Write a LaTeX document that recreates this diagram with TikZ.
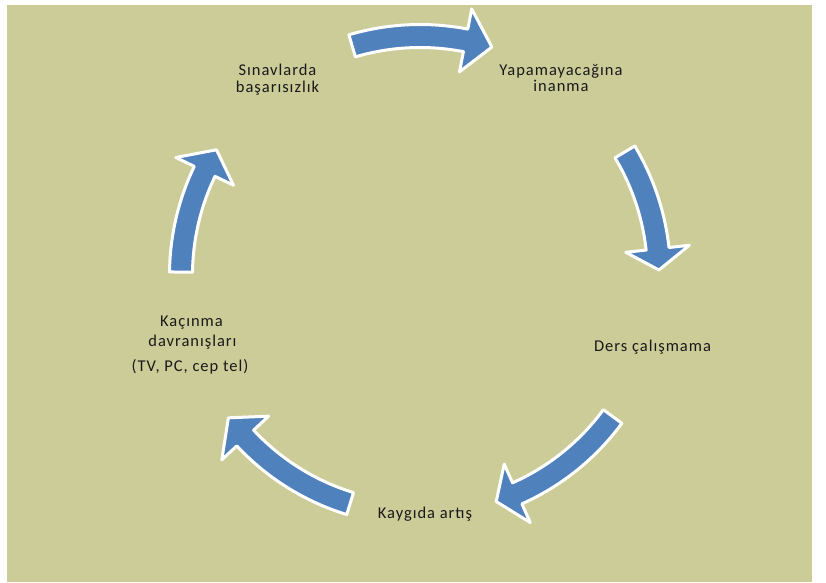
\documentclass[tikz,border=0pt]{standalone}
\usepackage{fontspec}
\setmainfont{Carlito}[LetterSpace=6]
\definecolor{bgolive}{RGB}{204,204,153}
\definecolor{arrowblue}{RGB}{79,129,189}
\definecolor{txt}{RGB}{25,25,25}
\newcommand\cyclearrow[3]{%
  \path[cyc] (#1:250.5) arc[start angle=#1, end angle=#2, radius=250.5]
    -- (#2:271) -- (#3:239) -- (#2:207) -- (#2:227.5)
    arc[start angle=#2, end angle=#1, radius=227.5] -- cycle;}
\begin{document}
\begin{tikzpicture}[x=1pt,y=1pt,
  lbl/.style={font=\fontsize{16.5}{20}\selectfont, text=txt, inner sep=0pt, anchor=base},
  cyc/.style={fill=arrowblue, draw=white, line width=3pt, line join=round}]
\useasboundingbox (0,0) rectangle (826,582);
\fill[white] (0,0) rectangle (826,582);
\fill[bgolive] (7,0) rectangle (812,577);
\begin{scope}[shift={(420,307)}]
  \cyclearrow{106.5}{79}{72.5}
  \cyclearrow{31}{6.3}{1.2}
  \cyclearrow{-36.3}{-66}{-71.4}
  \cyclearrow{-107}{-137}{-143.3}
  \cyclearrow{179.3}{154.3}{148.4}
\end{scope}
\node[lbl] (s1) at (277.5,506) {Sınavlarda};
\node[lbl] (s2) at (277.5,489) {başarısızlık};
\node[lbl] (y1) at (561,506) {Yapamayacağına};
\node[lbl] (y2) at (561,490) {inanma};
\node[lbl] (d1) at (652.5,231) {Ders çalışmama};
\node[lbl] (k1) at (425,64) {Kaygıda artış};
\node[lbl] (c1) at (191.5,256) {Kaçınma};
\node[lbl] (c2) at (192.5,236) {davranışları};
\node[lbl] (c3) at (190,211) {(TV, PC, cep tel)};
\end{tikzpicture}
\end{document}
